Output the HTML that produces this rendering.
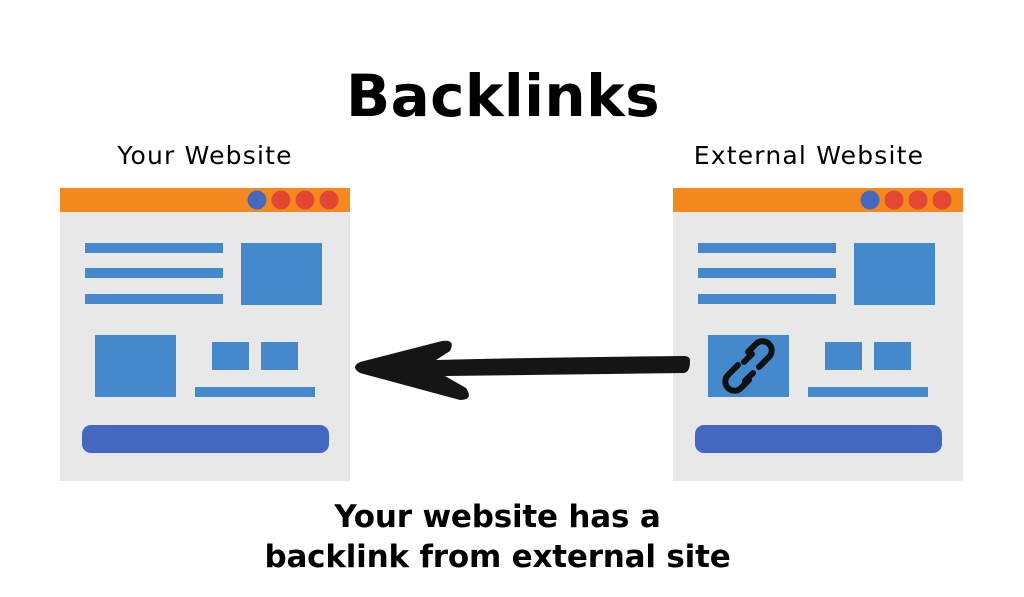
<!DOCTYPE html>
<html><head><style>
body{margin:0;width:1024px;height:597px;background:#fff;overflow:hidden;position:relative;font-family:"DejaVu Sans",sans-serif}
.t{position:absolute;text-align:center;color:#000;white-space:nowrap}
</style></head><body>
<div class="t" style="left:0;width:1006px;top:62px;font-size:58px;font-weight:bold;letter-spacing:0.4px">Backlinks</div>
<div class="t" style="left:55px;width:300px;top:141px;font-size:25px;letter-spacing:1.2px">Your Website</div>
<div class="t" style="left:659px;width:300px;top:141px;font-size:25px;letter-spacing:1.2px">External Website</div>
<div class="t" style="left:0;width:995px;top:497px;font-size:31px;font-weight:bold;line-height:40px;letter-spacing:-0.2px">Your website has a<br>backlink from external site</div>
<svg width="1024" height="597" style="position:absolute;left:0;top:0">
<g id="p">
<rect x="60" y="188" width="290" height="293" fill="#e8e8e9"/>
<rect x="60" y="188" width="290" height="24" fill="#f48a1d"/>
<circle cx="257" cy="200" r="9.5" fill="#4468c0"/>
<circle cx="281" cy="200" r="9.5" fill="#e34631"/>
<circle cx="305" cy="200" r="9.5" fill="#e34631"/>
<circle cx="329" cy="200" r="9.5" fill="#e34631"/>
<rect x="85" y="243" width="138" height="10" fill="#4589cd"/>
<rect x="85" y="268" width="138" height="10" fill="#4589cd"/>
<rect x="85" y="294" width="138" height="10" fill="#4589cd"/>
<rect x="241" y="243" width="81" height="62" fill="#4589cd"/>
<rect x="212" y="342" width="37" height="28" fill="#4589cd"/>
<rect x="261" y="342" width="37" height="28" fill="#4589cd"/>
<rect x="195" y="387" width="120" height="10" fill="#4589cd"/>
<rect x="82" y="425" width="247" height="28" rx="9" fill="#4468c0"/>
</g>
<rect x="95" y="335" width="81" height="62" fill="#4589cd"/>
<use href="#p" x="613"/>
<rect x="708" y="335" width="81" height="62" fill="#4589cd"/>
<g fill="none" stroke="#111" stroke-width="6" stroke-linecap="round">
<path d="M748 352 l8 -8 a9 9 0 0 1 13 13 l-10 10"/>
<path d="M749 380 l-8 8 a9 9 0 0 1 -13 -13 l10 -10"/>
<path d="M744 362 l8 -8 M753 373 l-8 8"/>
</g>
<path d="M690 361 Q690 372 684 373 L445 376 L466 388 Q474 400 460 400 L360 373 Q350 367 360 362 L442 341 Q456 339 450 351 L436 360 Q560 357 684 356 Q690 356 690 361Z" fill="#151515"/>
</svg>
</body></html>
